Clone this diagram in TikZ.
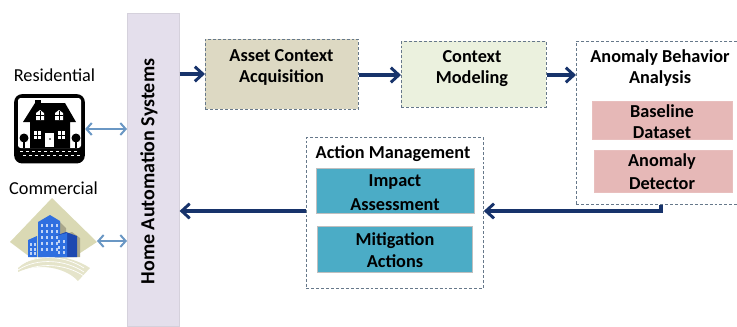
\documentclass[tikz,border=0pt]{standalone}
\usepackage{fontspec}
\setmainfont{Carlito}
\usetikzlibrary{arrows.meta,calc}
\definecolor{navy}{HTML}{17336B}
\definecolor{dashc}{HTML}{66788A}
\definecolor{dbl}{HTML}{6A97C4}
\definecolor{barc}{HTML}{E4DFEC}
\definecolor{assetc}{HTML}{DDD9C3}
\definecolor{ctxc}{HTML}{EBF1DE}
\definecolor{pinkc}{HTML}{E6B8B7}
\definecolor{tealc}{HTML}{4BACC6}
\definecolor{diam}{HTML}{DAD9B4}
\definecolor{bluec}{HTML}{2F6FE0}
\definecolor{blued}{HTML}{1D48B0}
\definecolor{tanc}{HTML}{A9A68A}
\tikzset{
  box/.style={draw=#1,inner sep=0pt,align=center,anchor=north west,text=black},
  dashbox/.style={box=dashc,dash pattern=on 2.2pt off 1.5pt,line width=0.6pt},
  flow/.style={draw=navy,line width=2.4pt,-{Straight Barb[length=6pt,width=11pt,line width=2.2pt]}},
  dbarrow/.style={draw=dbl,line width=1.6pt,{Straight Barb[length=4pt,width=9pt,line width=1.5pt]}-{Straight Barb[length=4pt,width=9pt,line width=1.5pt]}},
  lab/.style={inner sep=0pt,yshift=-0.9pt,font=\fontsize{13.7}{16}\selectfont\bfseries},
  plain/.style={inner sep=0pt,font=\fontsize{13.7}{16}\selectfont},
}
\begin{document}
\begin{tikzpicture}[x=0.75pt,y=-0.75pt]
\useasboundingbox (0,0) rectangle (737,326);
% Bar
\node[box=barc!85!gray,fill=barc,minimum width=39pt,minimum height=234.75pt] (bar) at (127,13) {};
\node[rotate=90,inner sep=0pt,font=\fontsize{15}{18}\selectfont\bfseries] (barlabel) at (149,171.5) {Home Automation Systems};
% Residential
\node[plain] (res) at (54.5,75) {Residential};
\node[plain] (com) at (53.5,188) {Commercial};
\node[draw=none,fill=black,rounded corners=6pt,inner sep=0pt,minimum width=53pt,minimum height=52pt] (house) at (49.5,128.8) {};
\fill[white,rounded corners=2pt] (18,98) rectangle (81,148);
\fill[black] (35,100) rectangle (41,106);
\fill[black] (23,122) -- (35,103) -- (65,103) -- (76,122) -- (70,122) -- (70,148) -- (30,148) -- (30,122) -- cycle;
\foreach \xx in {40,59}{
  \fill[white] (\xx-4,120) -- (\xx-4,113) -- (\xx,110) -- (\xx+4,113) -- (\xx+4,120) -- cycle;
  \draw[black,line width=0.5pt] (\xx,111) -- (\xx,120) (\xx-4,115.5) -- (\xx+4,115.5);
}
\foreach \xx in {37.5,61.5}{
  \fill[white] (\xx-3.5,131) rectangle (\xx+3.5,139);
  \draw[black,line width=0.5pt] (\xx,131) -- (\xx,139) (\xx-3.5,135) -- (\xx+3.5,135);
}
\fill[white] (45,133) rectangle (54,147);
\fill[black] (50,139) circle (0.9);
\foreach \xx in {24,76}{
  \fill[black] (\xx,138) circle (4.5);
  \fill[black] (\xx-1,138) rectangle (\xx+1,148);
}
\foreach \yy/\st in {151/20,155/23}{
  \foreach \i in {0,...,9}{
    \fill[white] (\st+\i*6,\yy) rectangle (\st+\i*6+2.5,\yy+1);
  }
}
% Commercial icon
\coordinate (comicon) at (97,241);
\fill[diam] (52,198) -- (97,242) -- (74,257) -- (30,257) -- (10,242) -- cycle;
\fill[diam!70!white] (18,268) .. controls (38,250) and (70,255) .. (90,268) -- (78,281) .. controls (66,268) and (40,262) .. (18,272) -- cycle;
\foreach \yy in {262,266,270}{
  \draw[white,line width=0.5pt] (18,\yy+4) .. controls (38,\yy-9) and (66,\yy-6) .. (84,\yy+6);
}
\fill[tanc] (60,222) -- (66,228) -- (66,234) -- (72,232) -- (80,238) -- (80,257) -- (60,257) -- cycle;
\fill[bluec] (28,240) -- (37,236) -- (37,257) -- (28,257) -- cycle;
\fill[bluec] (38,222) -- (50,215) -- (60,221) -- (60,257) -- (38,257) -- cycle;
\fill[blued] (55,236) -- (66,232) -- (77,236) -- (77,257) -- (55,257) -- cycle;
\fill[bluec] (55,236) -- (67,233) -- (67,257) -- (55,257) -- cycle;
\foreach \xx in {41,46,51,56}{
  \foreach \yy in {224,230,236,242,248}{
    \fill[white!70!bluec] (\xx,\yy) rectangle (\xx+2.4,\yy+3);
  }
}
\foreach \xx in {30,33.5}{
  \foreach \yy in {243,248,252}{
    \fill[white!70!bluec] (\xx,\yy) rectangle (\xx+2,\yy+2.5);
  }
}
\foreach \xx in {57.5,62.5}{
  \foreach \yy in {240,246,251}{
    \fill[white!70!bluec] (\xx,\yy) rectangle (\xx+2.4,\yy+3);
  }
}
% Boxes
\node[dashbox,fill=assetc,minimum width=114.75pt,minimum height=52.5pt] (asset) at (205,39) {};
\node[dashbox,fill=ctxc,minimum width=108.75pt,minimum height=49.5pt] (ctx) at (401,41) {};
\node[dashbox,fill=white,minimum width=125pt,minimum height=122.25pt] (anom) at (576,41) {};
\node[box=pinkc!90!white,fill=pinkc,line width=0.4pt,minimum width=105pt,minimum height=28.5pt] (base) at (592,101) {};
\node[box=pinkc!90!white,fill=pinkc,line width=0.4pt,minimum width=103.5pt,minimum height=31.5pt] (det) at (594,150) {};
\node[dashbox,fill=white,minimum width=132.75pt,minimum height=113.25pt] (act) at (306,137) {};
\node[box=gray!50,fill=tealc,line width=0.5pt,minimum width=118.5pt,minimum height=33.75pt] (imp) at (316,168) {};
\node[box=gray!50,fill=tealc,line width=0.5pt,minimum width=116.25pt,minimum height=34.5pt] (mit) at (317,226) {};
% Labels
\node[lab] (l1) at (281.5,54) {Asset Context};
\node[lab] (l2) at (281.5,76) {Acquisition};
\node[lab] (l3) at (472,55) {Context};
\node[lab] (l4) at (472,77) {Modeling};
\node[lab] (l5) at (660,56) {Anomaly Behavior};
\node[lab] (l6) at (660,77) {Analysis};
\node[lab] (l7) at (662,110) {Baseline};
\node[lab] (l8) at (662,131) {Dataset};
\node[lab] (l9) at (662,160) {Anomaly};
\node[lab] (l10) at (662,182) {Detector};
\node[lab] (l11) at (393,152) {Action Management};
\node[lab] (l12) at (395,181) {Impact};
\node[lab] (l13) at (395,203) {Assessment};
\node[lab] (l14) at (395,239) {Mitigation};
\node[lab] (l15) at (395,260) {Actions};
% Connectors
\draw[flow] (bar.east |- 0,74) -- (asset.west |- 0,74);
\draw[flow] (asset.east |- 0,75) -- (ctx.west |- 0,75);
\draw[flow] (ctx.east |- 0,75) -- (anom.west |- 0,75);
\draw[flow] (anom.south -| 661,0) -- (661,211) -- (act.east |- 0,211);
\draw[flow] (act.west |- 0,211) -- (bar.east |- 0,211);
\draw[dbarrow] (house.east |- 0,129) -- (bar.west |- 0,129);
\draw[dbarrow] (comicon) -- (bar.west |- 0,241);
\end{tikzpicture}
\end{document}
